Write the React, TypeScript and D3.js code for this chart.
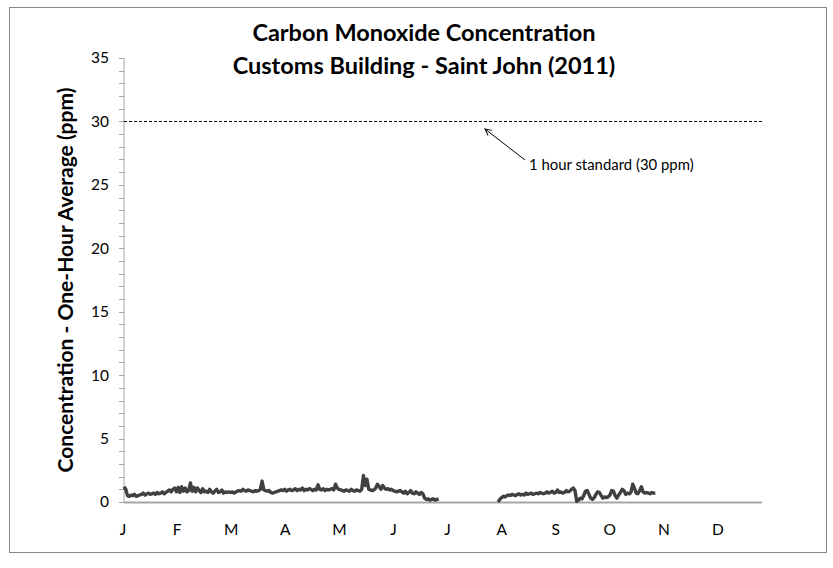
import React from "react";
import * as d3 from "d3";

const MONTHS = ["J", "F", "M", "A", "M", "J", "J", "A", "S", "O", "N", "D"];
const Y_MAJOR = [0, 5, 10, 15, 20, 25, 30, 35];
const Y_MINOR = d3.range(0, 36);
const STANDARD = 30;
const STANDARD_LABEL = "1 hour standard (30 ppm)";
const TITLE1 = "Carbon Monoxide Concentration";
const TITLE2 = "Customs Building - Saint John (2011)";
const Y_TITLE = "Concentration - One-Hour Average (ppm)";

// Segment 1: starts Jan 1 (day 0), one value per day
const SEG1_START = 0;
const SEG1_VALUES = [
  1.2, 1.0, 0.5,
  0.45, 0.55, 0.5, 0.6, 0.45, 0.5, 0.55,
  0.6, 0.7, 0.55, 0.65, 0.7, 0.6, 0.65,
  0.7, 0.6, 0.75, 0.65, 0.7, 0.8, 0.65, 0.75,
  0.85, 0.95, 0.8, 1.0,
  1.1, 0.8, 1.15, 0.75, 1.2, 0.85, 1.1, 0.8,
  0.9, 1.5,
  0.85, 1.15, 0.8, 1.1, 0.9, 0.75, 1.05, 0.8, 0.85,
  0.75, 1.0, 0.8, 0.7, 0.85, 1.0, 0.75, 0.8, 0.95, 0.7, 0.8, 0.75, 0.8,
  0.75, 0.8, 0.7, 0.8, 0.85, 0.9,
  0.85, 1.0, 0.9, 0.85, 0.95, 0.9, 0.85, 0.8, 0.9,
  0.85, 0.9, 1.0,
  1.65,
  0.95, 0.9, 0.85, 0.9,
  0.75, 0.7, 0.75, 0.8,
  0.85, 0.9, 0.95, 0.9, 1.0, 0.85, 0.95, 1.0, 0.9, 0.95, 1.05, 0.9, 1.0, 0.95, 1.1, 0.9,
  1.0, 0.95, 1.05, 1.0, 0.9, 1.0, 0.95, 1.35, 1.0, 0.95, 1.05, 0.9, 1.0, 0.95, 1.0, 1.05, 0.95,
  1.4, 1.1, 1.0, 0.95,
  0.9, 0.85, 0.95, 0.9, 0.85, 1.0, 0.9, 0.85, 0.95, 0.9, 0.85,
  1.0, 2.1, 1.3, 1.8,
  1.0, 0.95, 0.9, 0.95,
  1.1, 1.4, 1.2, 1.0, 1.3, 1.1, 1.0, 1.05, 0.95, 1.0,
  0.9, 0.85, 0.8, 0.85, 0.9, 0.8,
  0.7, 0.85, 0.65, 0.75, 0.9, 0.7, 0.65, 0.8, 0.7, 0.6, 0.75, 0.65,
  0.3, 0.2, 0.25, 0.15, 0.2, 0.25, 0.15, 0.2, 0.25,
];

// Segment 2: starts early August (day 214), one value per day
const SEG2_START = 214;
const SEG2_VALUES = [
  0.0, 0.2,
  0.35, 0.45, 0.4, 0.5,
  0.55, 0.5, 0.6, 0.55, 0.5, 0.6, 0.65, 0.55,
  0.6, 0.55, 0.7, 0.6, 0.65, 0.7, 0.6, 0.65,
  0.7, 0.65, 0.75, 0.7, 0.65, 0.7, 0.8, 0.7,
  0.75, 0.85, 0.7, 0.75, 0.95, 0.75, 0.8, 0.7,
  0.75, 0.9, 0.8, 0.85,
  1.0, 1.1,
  0.9,
  0.05,
  0.15, 0.3, 0.25,
  0.5, 0.85, 0.9, 0.6,
  0.3, 0.2, 0.35,
  0.6, 0.8, 0.75, 0.5,
  0.3, 0.4, 0.35,
  0.4, 0.55, 0.9,
  0.85, 0.5,
  0.3, 0.55, 0.75,
  1.0, 0.9, 0.6,
  0.7, 0.65, 0.75,
  1.4, 1.1, 0.7,
  0.65, 0.9, 1.2,
  0.8, 0.7, 0.75, 0.7,
  0.65, 0.75, 0.7, 0.7,
];

const W = 833;
const H = 568;
const FONT = "Lato, 'Open Sans', sans-serif";

export default function App() {
  const x = d3.scaleLinear().domain([0, 365]).range([124, 762]);
  const y = d3.scaleLinear().domain([0, 35]).range([502, 58]);
  const xm = d3
    .scalePoint<string>()
    .domain(MONTHS.map((_, i) => String(i)))
    .range([123, 718]);

  const seg1 = SEG1_VALUES.map((v, i) => ({ d: SEG1_START + i, v }));
  const seg2 = SEG2_VALUES.map((v, i) => ({ d: SEG2_START + i, v }));
  const line = d3
    .line<{ d: number; v: number }>()
    .x((p) => x(p.d))
    .y((p) => y(p.v));

  const axisColor = "#a6a6a6";
  const [x0, x1] = x.range();
  const [yb, yt] = y.range();

  return (
    <svg
      width={W}
      height={H}
      style={{ position: "absolute", left: 0, top: 0, background: "#fff" }}
      fontFamily={FONT}
    >
      <defs>
        <marker
          id="arrowOpen"
          viewBox="0 0 10 10"
          refX="9"
          refY="5"
          markerWidth="8"
          markerHeight="8"
          orient="auto-start-reverse"
          markerUnits="userSpaceOnUse"
        >
          <path d="M1,1 L9,5 L1,9" fill="none" stroke="#000" strokeWidth="1.2" />
        </marker>
      </defs>
      <rect x={9.5} y={7.5} width={817} height={545} fill="#fff" stroke="#868686" strokeWidth={1} />

      <text x={424} y={41} textAnchor="middle" fontSize={23.5} fontWeight="bold" fill="#000">
        {TITLE1}
      </text>
      <text x={424} y={74} textAnchor="middle" fontSize={23.5} fontWeight="bold" fill="#000">
        {TITLE2}
      </text>

      <text
        transform={`translate(73, ${(yb + yt) / 2}) rotate(-90)`}
        textAnchor="middle"
        fontSize={21}
        fontWeight="bold"
        fill="#000"
      >
        {Y_TITLE}
      </text>

      {/* y axis */}
      <line x1={x0} x2={x0} y1={yt} y2={yb} stroke={axisColor} strokeWidth={1} />
      {Y_MINOR.map((t) => (
        <line key={"mn" + t} x1={x0 - 5} x2={x0} y1={Math.round(y(t)) + 0.5} y2={Math.round(y(t)) + 0.5} stroke={axisColor} />
      ))}
      {Y_MAJOR.map((t) => (
        <text key={"lb" + t} x={109} y={y(t)} dy="0.35em" textAnchor="end" fontSize={15.5} fill="#000">
          {t}
        </text>
      ))}

      {/* x axis */}
      <line x1={x0} x2={x1} y1={yb + 0.5} y2={yb + 0.5} stroke={axisColor} strokeWidth={2} />
      {MONTHS.map((m, i) => (
        <text key={"m" + i} x={xm(String(i))} y={530} dy="0.35em" textAnchor="middle" fontSize={15.5} fill="#000">
          {m}
        </text>
      ))}

      {/* standard */}
      <line x1={x0} x2={x1} y1={Math.round(y(STANDARD)) + 0.5} y2={Math.round(y(STANDARD)) + 0.5} stroke="#000" strokeWidth={1} strokeDasharray="3,2" />
      <line x1={525} y1={160} x2={485} y2={129} stroke="#000" strokeWidth={1} markerEnd="url(#arrowOpen)" />
      <text x={529} y={165} dy="0.35em" fontSize={14.9} fill="#000">
        {STANDARD_LABEL}
      </text>

      {/* data */}
      <path d={line(seg1) || ""} fill="none" stroke="#404040" strokeWidth={3.4} strokeLinejoin="round" />
      <path d={line(seg2) || ""} fill="none" stroke="#404040" strokeWidth={3.4} strokeLinejoin="round" />
    </svg>
  );
}
